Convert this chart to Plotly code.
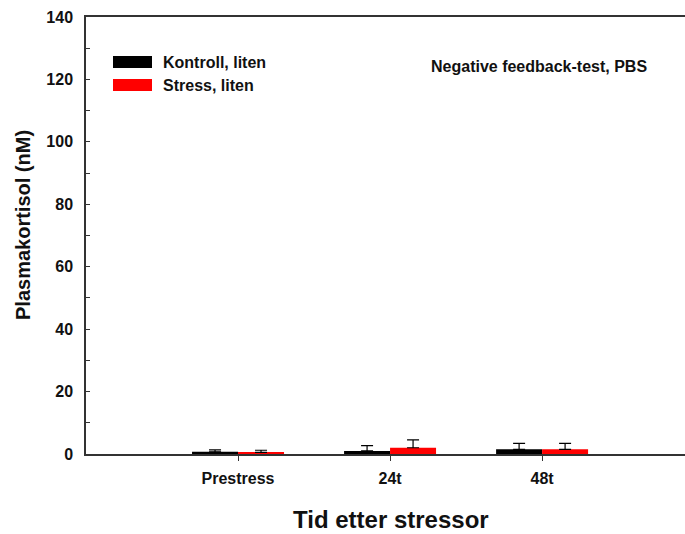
import plotly.graph_objects as go

# Plasma cortisol after a stressor, negative feedback test (PBS)
categories = ["Prestress", "24t", "48t"]
series_names = ["Kontroll, liten", "Stress, liten"]
kontroll_mean = [0.7, 1.0, 1.5]
kontroll_err = [0.6, 1.7, 1.9]
stress_mean = [0.5, 2.0, 1.5]
stress_err = [0.7, 2.5, 1.9]
series_colors = ["#000000", "#ff0000"]

FONT = "Liberation Sans, Arial, sans-serif"
INK = "#111"

# Plot-area geometry in pixels
W, H = 685, 534
L, R, T, B = 86, 0, 17, 80
PW, PH = W - L - R, H - T - B


def px_to_paper(x, y):
    return (x - L) / PW, (H - B - y) / PH


fig = go.Figure()
for name, mean, err, color in zip(series_names,
                                  [kontroll_mean, stress_mean],
                                  [kontroll_err, stress_err],
                                  series_colors):
    fig.add_trace(go.Bar(
        x=categories, y=mean, name=name,
        marker=dict(color=color, line=dict(width=0)),
        error_y=dict(type="data", array=err, arrayminus=[0] * len(err),
                     symmetric=False, color="#000000", thickness=1.2, width=6),
    ))

# Hand-drawn legend with wide swatches
for name, color, ypx in zip(series_names, series_colors, [62, 85]):
    x0, y0 = px_to_paper(113, ypx + 6)
    x1, y1 = px_to_paper(152, ypx - 6)
    fig.add_shape(type="rect", xref="paper", yref="paper",
                  x0=x0, x1=x1, y0=y0, y1=y1,
                  fillcolor=color, line=dict(width=0))
    tx, ty = px_to_paper(161, ypx)
    fig.add_annotation(x=tx, y=ty, xref="paper", yref="paper",
                       text=f"<b>{name}</b>", showarrow=False,
                       xanchor="left", yanchor="middle",
                       font=dict(family=FONT, size=16, color=INK))

ax, ay = px_to_paper(539, 67)
fig.add_annotation(x=ax, y=ay, xref="paper", yref="paper",
                   text="<b>Negative feedback-test, PBS</b>", showarrow=False,
                   xanchor="center", yanchor="middle",
                   font=dict(family=FONT, size=16, color=INK))

# Axis titles
tx, ty = px_to_paper(391, 519)
fig.add_annotation(x=tx, y=ty, xref="paper", yref="paper",
                   text="<b>Tid etter stressor</b>", showarrow=False,
                   xanchor="center", yanchor="middle",
                   font=dict(family=FONT, size=24, color=INK))
tx, ty = px_to_paper(23, 225)
fig.add_annotation(x=tx, y=ty, xref="paper", yref="paper",
                   text="<b>Plasmakortisol (nM)</b>", showarrow=False,
                   textangle=-90, xanchor="center", yanchor="middle",
                   font=dict(family=FONT, size=20, color=INK))

fig.update_layout(
    width=W, height=H,
    margin=dict(l=L, r=R, t=T, b=B),
    plot_bgcolor="white", paper_bgcolor="white",
    barmode="group", bargap=0.395, bargroupgap=0,
    showlegend=False,
    font=dict(family=FONT, size=16, color=INK),
    xaxis=dict(
        range=[-1, 2.94], showline=True, linecolor="#333", linewidth=1.5,
        mirror=True, ticks="outside", ticklen=5, tickcolor="#333",
        tickfont=dict(family=FONT, size=16, color=INK),
        tickprefix="<b>", ticksuffix="</b>",
        ticklabelstandoff=4,
        showgrid=False, zeroline=False,
    ),
    yaxis=dict(
        range=[0, 140], dtick=20, showline=True, linecolor="#333",
        linewidth=1.5, mirror=False, ticks="inside", ticklen=4,
        tickcolor="#333", ticklabelstandoff=8,
        tickfont=dict(family=FONT, size=16, color=INK),
        tickprefix="<b>", ticksuffix="</b>",
        minor=dict(dtick=10, ticks="inside", ticklen=4, tickcolor="#333"),
        showgrid=False, zeroline=False,
    ),
)

fig.write_html("out.html")
